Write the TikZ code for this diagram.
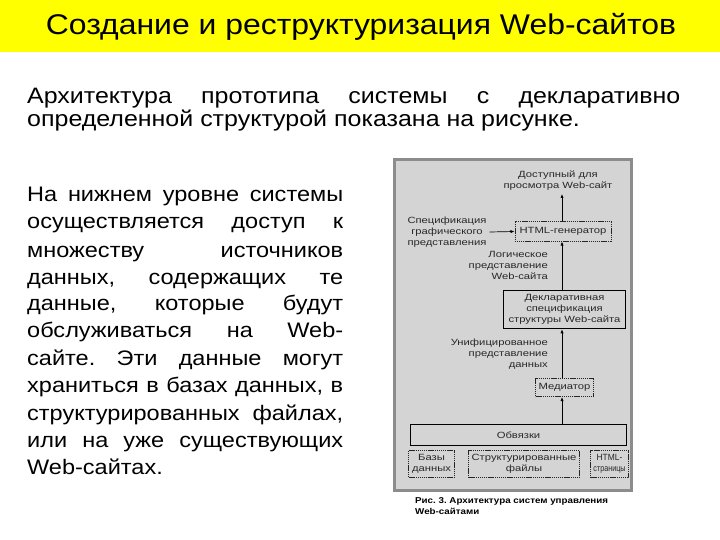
\documentclass[tikz,border=0pt]{standalone}
\usepackage{fontspec}
\setmainfont[FakeStretch=1.12]{Liberation Sans}
\newfontfamily\diagfont[FakeStretch=1.25]{Liberation Sans}
\newfontfamily\capfont[FakeStretch=1.15]{Liberation Sans}
\usetikzlibrary{arrows.meta}
\definecolor{bannerY}{RGB}{255,255,0}
\definecolor{panelgray}{RGB}{212,212,212}
\definecolor{bordergray}{RGB}{140,140,140}
\definecolor{smalltext}{RGB}{40,40,40}
\frenchspacing
\tikzset{
  bodyline/.style={anchor=base west, inner sep=0pt, font=\fontsize{21}{26}\selectfont},
  tiny/.style={font=\diagfont\fontsize{9}{11}\selectfont, text=smalltext, inner sep=0pt},
  solidbox/.style={draw=black, line width=1.5pt, fill=panelgray, inner sep=1pt, align=center, tiny},
  dotbox/.style={draw=black!85, line width=1pt, dash pattern=on 1.2pt off 0.7pt, fill=panelgray, inner sep=1pt, align=center, tiny},
  arr/.style={-{Latex[length=4pt,width=3.2pt]}, line width=0.7pt, black}
}
\begin{document}
\begin{tikzpicture}[x=1pt,y=-1pt]
\useasboundingbox (0,0) rectangle (720,540);
\fill[white] (0,0) rectangle (720,540);
% banner
\fill[bannerY] (0,0) rectangle (720,52);
\node[anchor=base, inner sep=0pt, font=\fontsize{28.5}{32}\selectfont] (title) at (361,35) {Создание и реструктуризация Web-сайтов};
% intro paragraph
\node[bodyline, font=\fontsize{22.3}{26}\selectfont] (p1) at (27,104) {\makebox[653pt][s]{Архитектура прототипа системы с декларативно}};
\node[bodyline, font=\fontsize{22.3}{26}\selectfont] (p2) at (27,127) {определенной структурой показана на рисунке.};
% left text
\node[bodyline] (l1) at (27,202) {\makebox[316pt][s]{На нижнем уровне системы}};
\node[bodyline] (l2) at (27,229) {\makebox[316pt][s]{осуществляется доступ к}};
\node[bodyline] (l3) at (27,257) {\makebox[316pt][s]{множеству источников}};
\node[bodyline] (l4) at (27,284) {\makebox[316pt][s]{данных, содержащих те}};
\node[bodyline] (l5) at (27,310) {\makebox[316pt][s]{данные, которые будут}};
\node[bodyline] (l6) at (27,337) {\makebox[316pt][s]{обслуживаться на Web-}};
\node[bodyline] (l7) at (27,365) {\makebox[316pt][s]{сайте. Эти данные могут}};
\node[bodyline] (l8) at (27,392) {\makebox[316pt][s]{храниться в базах данных, в}};
\node[bodyline] (l9) at (27,420) {\makebox[316pt][s]{структурированных файлах,}};
\node[bodyline] (l10) at (27,447) {\makebox[316pt][s]{или на уже существующих}};
\node[bodyline] (l11) at (27,474) {Web-сайтах.};
% panel
\draw[fill=panelgray, draw=bordergray, line width=3pt] (394.5,159.5) rectangle (631.5,490.5);
\coordinate (axis) at (562,0);
% nodes
\node[tiny, align=center] (top) at (558,181) {Доступный для\\просмотра Web-сайт};
\node[dotbox, minimum width=96pt, minimum height=19pt] (html) at (563,231.5) {HTML-генератор};
\node[tiny, align=center] (spec) at (447,232) {Спецификация\\графического\\представления};
\node[tiny, align=right, anchor=east] (logic) at (548,265) {Логическое\\представление\\Web-сайта};
\node[solidbox, minimum width=122pt, minimum height=38pt] (decl) at (564.5,309.5) {Декларативная\\спецификация\\структуры Web-сайта};
\node[tiny, align=right, anchor=east] (unif) at (548,354) {Унифицированное\\представление\\данных};
\node[dotbox, minimum width=58pt, minimum height=18pt] (med) at (564.5,387.5) {Медиатор};
\node[solidbox, minimum width=216pt, minimum height=21pt] (obv) at (518.5,435) {Обвязки};
\node[dotbox, minimum width=46pt, minimum height=27pt] (db) at (431.5,464) {Базы\\данных};
\node[dotbox, minimum width=111pt, minimum height=27pt] (sf) at (524,464) {Структурированные\\файлы};
\node[dotbox, minimum width=38pt, minimum height=27pt] (hp) at (609.5,464) {\scalebox{0.75}[1]{HTML-}\\\scalebox{0.64}[1]{страницы}};
% caption
\node[anchor=north west, inner sep=0pt, align=left, font=\capfont\fontsize{8.5}{11}\selectfont\bfseries] (cap) at (415,497) {Рис. 3. Архитектура систем управления\\Web-сайтами};
% connectors
\draw[arr] (obv.north -| axis) -- (med.south -| axis);
\draw[arr] (med.north -| axis) -- (decl.south -| axis);
\draw[arr] (decl.north -| axis) -- (html.south -| axis);
\draw[arr] (html.north -| axis) -- ([yshift=-3pt]top.south -| axis);
\draw[arr] ([xshift=3pt]spec.east) -- (html.west);
\end{tikzpicture}
\end{document}
